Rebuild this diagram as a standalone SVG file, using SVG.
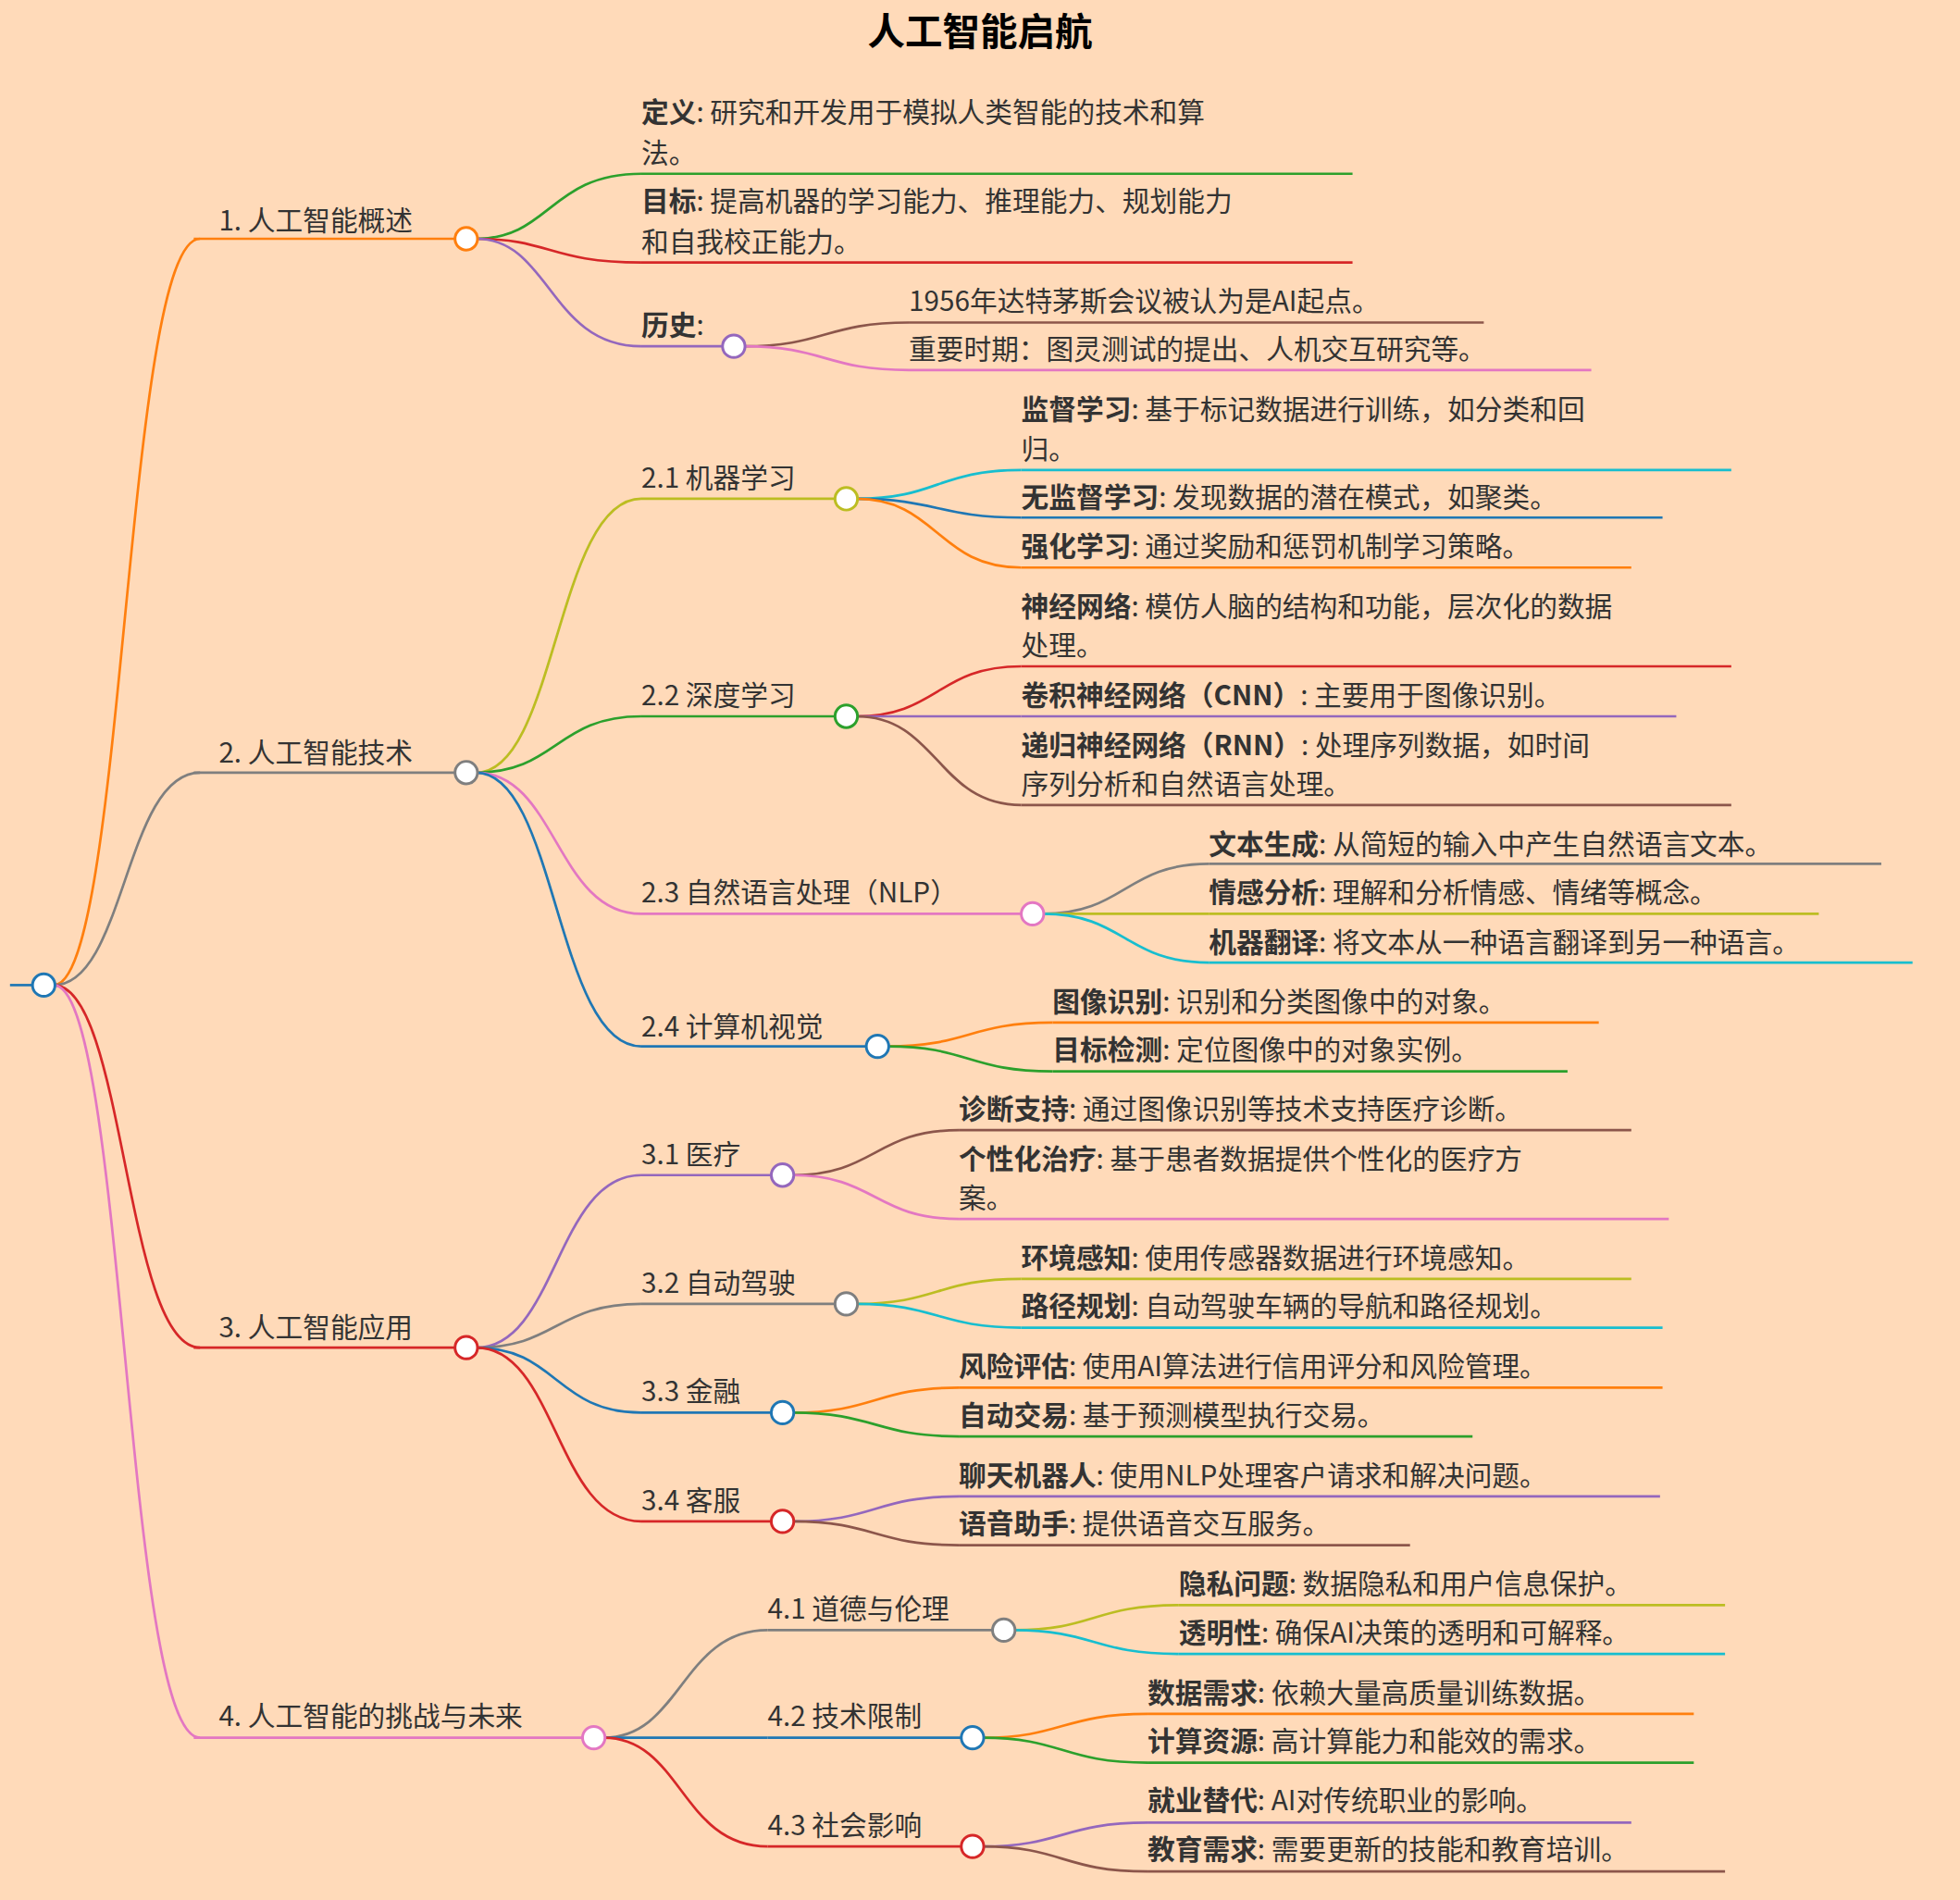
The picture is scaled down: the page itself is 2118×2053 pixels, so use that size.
<svg xmlns="http://www.w3.org/2000/svg" width="2118" height="2053" viewBox="0 0 2118 2053">
<style>
text{font-family:"Noto Sans CJK SC","Noto Sans",sans-serif;font-size:22px;fill:#333}
.t{font-size:30px;font-weight:bold;fill:#000}
b,.b{font-weight:bold}
path,line{fill:none;stroke-width:2}
circle{fill:#fff;stroke-width:2.2}
</style>
<rect width="2118" height="2053" fill="#ffdab9"/>
<g transform="scale(1.3508)">
<text class="t" x="784" y="36" text-anchor="middle">人工智能启航</text>
<g id="connectors">
<line x1="8" y1="788" x2="28" y2="788" stroke="#1f77b4" stroke-width="3"/>
<path d="M43 788 C100 788 100 191 160 191" stroke="#ff7f0e"/>
<path d="M43 788 C100 788 100 618 160 618" stroke="#7f7f7f"/>
<path d="M43 788 C100 788 100 1078 160 1078" stroke="#d62728"/>
<path d="M43 788 C100 788 100 1390 160 1390" stroke="#e377c2"/>
<path d="M381 191 C440 191 440 139 513 139" stroke="#2ca02c"/>
<path d="M381 191 C440 191 440 210 513 210" stroke="#d62728"/>
<path d="M381 191 C440 191 440 277 513 277" stroke="#9467bd"/>
<path d="M595 277 C660 277 660 258 727 258" stroke="#8c564b"/>
<path d="M595 277 C660 277 660 296 727 296" stroke="#e377c2"/>
<path d="M381 618 C445 618 445 399 513 399" stroke="#bcbd22"/>
<path d="M381 618 C445 618 445 573 513 573" stroke="#2ca02c"/>
<path d="M381 618 C445 618 445 731 513 731" stroke="#e377c2"/>
<path d="M381 618 C445 618 445 837 513 837" stroke="#1f77b4"/>
<path d="M685 399 C750 399 750 376 817 376" stroke="#17becf"/>
<path d="M685 399 C750 399 750 414 817 414" stroke="#1f77b4"/>
<path d="M685 399 C750 399 750 454 817 454" stroke="#ff7f0e"/>
<path d="M685 573 C750 573 750 533 817 533" stroke="#d62728"/>
<path d="M685 573 L817 573" stroke="#9467bd"/>
<path d="M685 573 C750 573 750 644 817 644" stroke="#8c564b"/>
<path d="M834 731 C900 731 900 691 967 691" stroke="#7f7f7f"/>
<path d="M834 731 L967 731" stroke="#bcbd22"/>
<path d="M834 731 C900 731 900 770 967 770" stroke="#17becf"/>
<path d="M710 837 C775 837 775 818 842 818" stroke="#ff7f0e"/>
<path d="M710 837 C775 837 775 857 842 857" stroke="#2ca02c"/>
<path d="M381 1078 C445 1078 445 940 513 940" stroke="#9467bd"/>
<path d="M381 1078 C445 1078 445 1043 513 1043" stroke="#7f7f7f"/>
<path d="M381 1078 C445 1078 445 1130 513 1130" stroke="#1f77b4"/>
<path d="M381 1078 C445 1078 445 1217 513 1217" stroke="#d62728"/>
<path d="M634 940 C700 940 700 904 767 904" stroke="#8c564b"/>
<path d="M634 940 C700 940 700 975 767 975" stroke="#e377c2"/>
<path d="M685 1043 C750 1043 750 1023 817 1023" stroke="#bcbd22"/>
<path d="M685 1043 C750 1043 750 1062 817 1062" stroke="#17becf"/>
<path d="M634 1130 C700 1130 700 1110 767 1110" stroke="#ff7f0e"/>
<path d="M634 1130 C700 1130 700 1149 767 1149" stroke="#2ca02c"/>
<path d="M634 1217 C700 1217 700 1197 767 1197" stroke="#9467bd"/>
<path d="M634 1217 C700 1217 700 1236 767 1236" stroke="#8c564b"/>
<path d="M483 1390 C545 1390 545 1304 614 1304" stroke="#7f7f7f"/>
<path d="M483 1390 L614 1390" stroke="#1f77b4"/>
<path d="M483 1390 C545 1390 545 1477 614 1477" stroke="#d62728"/>
<path d="M811 1304 C875 1304 875 1284 943 1284" stroke="#bcbd22"/>
<path d="M811 1304 C875 1304 875 1323 943 1323" stroke="#17becf"/>
<path d="M786 1390 C850 1390 850 1371 918 1371" stroke="#ff7f0e"/>
<path d="M786 1390 C850 1390 850 1410 918 1410" stroke="#2ca02c"/>
<path d="M786 1477 C850 1477 850 1458 918 1458" stroke="#9467bd"/>
<path d="M786 1477 C850 1477 850 1497 918 1497" stroke="#8c564b"/>
</g>
<g id="root"><circle cx="35" cy="788" r="9" stroke="#1f77b4"/></g>
<g id="n1"><line x1="155" y1="191" x2="365" y2="191" stroke="#ff7f0e"/><text x="175" y="184">1. 人工智能概述</text><circle cx="373" cy="191" r="9" stroke="#ff7f0e"/></g>
<g id="n1a"><line x1="513" y1="139" x2="1082" y2="139" stroke="#2ca02c"/><text x="513" y="98"><tspan class="b">定义</tspan>: 研究和开发用于模拟人类智能的技术和算</text><text x="513" y="130">法。</text></g>
<g id="n1b"><line x1="513" y1="210" x2="1082" y2="210" stroke="#d62728"/><text x="513" y="169"><tspan class="b">目标</tspan>: 提高机器的学习能力、推理能力、规划能力</text><text x="513" y="201">和自我校正能力。</text></g>
<g id="n1c"><line x1="513" y1="277" x2="579" y2="277" stroke="#9467bd"/><text x="513" y="268"><tspan class="b">历史</tspan>:</text><circle cx="587" cy="277" r="9" stroke="#9467bd"/></g>
<g id="n1c1"><line x1="727" y1="258" x2="1187" y2="258" stroke="#8c564b"/><text x="727" y="249">1956年达特茅斯会议被认为是AI起点。</text></g>
<g id="n1c2"><line x1="727" y1="296" x2="1273" y2="296" stroke="#e377c2"/><text x="727" y="287">重要时期：图灵测试的提出、人机交互研究等。</text></g>

<g id="n2"><line x1="155" y1="618" x2="365" y2="618" stroke="#7f7f7f"/><text x="175" y="610">2. 人工智能技术</text><circle cx="373" cy="618" r="9" stroke="#7f7f7f"/></g>
<g id="n21"><line x1="513" y1="399" x2="669" y2="399" stroke="#bcbd22"/><text x="513" y="390">2.1 机器学习</text><circle cx="677" cy="399" r="9" stroke="#bcbd22"/></g>
<g id="n211"><line x1="817" y1="376" x2="1385" y2="376" stroke="#17becf"/><text x="817" y="335"><tspan class="b">监督学习</tspan>: 基于标记数据进行训练，如分类和回</text><text x="817" y="367">归。</text></g>
<g id="n212"><line x1="817" y1="414" x2="1330" y2="414" stroke="#1f77b4"/><text x="817" y="406"><tspan class="b">无监督学习</tspan>: 发现数据的潜在模式，如聚类。</text></g>
<g id="n213"><line x1="817" y1="454" x2="1305" y2="454" stroke="#ff7f0e"/><text x="817" y="445"><tspan class="b">强化学习</tspan>: 通过奖励和惩罚机制学习策略。</text></g>
<g id="n22"><line x1="513" y1="573" x2="669" y2="573" stroke="#2ca02c"/><text x="513" y="564">2.2 深度学习</text><circle cx="677" cy="573" r="9" stroke="#2ca02c"/></g>
<g id="n221"><line x1="817" y1="533" x2="1385" y2="533" stroke="#d62728"/><text x="817" y="493"><tspan class="b">神经网络</tspan>: 模仿人脑的结构和功能，层次化的数据</text><text x="817" y="524">处理。</text></g>
<g id="n222"><line x1="817" y1="573" x2="1341" y2="573" stroke="#9467bd"/><text x="817" y="564"><tspan class="b">卷积神经网络（CNN）</tspan>: 主要用于图像识别。</text></g>
<g id="n223"><line x1="817" y1="644" x2="1385" y2="644" stroke="#8c564b"/><text x="817" y="604"><tspan class="b">递归神经网络（RNN）</tspan>: 处理序列数据，如时间</text><text x="817" y="635">序列分析和自然语言处理。</text></g>
<g id="n23"><line x1="513" y1="731" x2="818" y2="731" stroke="#e377c2"/><text x="513" y="722">2.3 自然语言处理（NLP）</text><circle cx="826" cy="731" r="9" stroke="#e377c2"/></g>
<g id="n231"><line x1="967" y1="691" x2="1505" y2="691" stroke="#7f7f7f"/><text x="967" y="683"><tspan class="b">文本生成</tspan>: 从简短的输入中产生自然语言文本。</text></g>
<g id="n232"><line x1="967" y1="731" x2="1455" y2="731" stroke="#bcbd22"/><text x="967" y="722"><tspan class="b">情感分析</tspan>: 理解和分析情感、情绪等概念。</text></g>
<g id="n233"><line x1="967" y1="770" x2="1530" y2="770" stroke="#17becf"/><text x="967" y="762"><tspan class="b">机器翻译</tspan>: 将文本从一种语言翻译到另一种语言。</text></g>
<g id="n24"><line x1="513" y1="837" x2="694" y2="837" stroke="#1f77b4"/><text x="513" y="829">2.4 计算机视觉</text><circle cx="702" cy="837" r="9" stroke="#1f77b4"/></g>
<g id="n241"><line x1="842" y1="818" x2="1279" y2="818" stroke="#ff7f0e"/><text x="842" y="809"><tspan class="b">图像识别</tspan>: 识别和分类图像中的对象。</text></g>
<g id="n242"><line x1="842" y1="857" x2="1254" y2="857" stroke="#2ca02c"/><text x="842" y="848"><tspan class="b">目标检测</tspan>: 定位图像中的对象实例。</text></g>

<g id="n3"><line x1="155" y1="1078" x2="365" y2="1078" stroke="#d62728"/><text x="175" y="1070">3. 人工智能应用</text><circle cx="373" cy="1078" r="9" stroke="#d62728"/></g>
<g id="n31"><line x1="513" y1="940" x2="618" y2="940" stroke="#9467bd"/><text x="513" y="931">3.1 医疗</text><circle cx="626" cy="940" r="9" stroke="#9467bd"/></g>
<g id="n311"><line x1="767" y1="904" x2="1305" y2="904" stroke="#8c564b"/><text x="767" y="895"><tspan class="b">诊断支持</tspan>: 通过图像识别等技术支持医疗诊断。</text></g>
<g id="n312"><line x1="767" y1="975" x2="1335" y2="975" stroke="#e377c2"/><text x="767" y="935"><tspan class="b">个性化治疗</tspan>: 基于患者数据提供个性化的医疗方</text><text x="767" y="966">案。</text></g>
<g id="n32"><line x1="513" y1="1043" x2="669" y2="1043" stroke="#7f7f7f"/><text x="513" y="1034">3.2 自动驾驶</text><circle cx="677" cy="1043" r="9" stroke="#7f7f7f"/></g>
<g id="n321"><line x1="817" y1="1023" x2="1305" y2="1023" stroke="#bcbd22"/><text x="817" y="1014"><tspan class="b">环境感知</tspan>: 使用传感器数据进行环境感知。</text></g>
<g id="n322"><line x1="817" y1="1062" x2="1330" y2="1062" stroke="#17becf"/><text x="817" y="1053"><tspan class="b">路径规划</tspan>: 自动驾驶车辆的导航和路径规划。</text></g>
<g id="n33"><line x1="513" y1="1130" x2="618" y2="1130" stroke="#1f77b4"/><text x="513" y="1121">3.3 金融</text><circle cx="626" cy="1130" r="9" stroke="#1f77b4"/></g>
<g id="n331"><line x1="767" y1="1110" x2="1330" y2="1110" stroke="#ff7f0e"/><text x="767" y="1101"><tspan class="b">风险评估</tspan>: 使用AI算法进行信用评分和风险管理。</text></g>
<g id="n332"><line x1="767" y1="1149" x2="1178" y2="1149" stroke="#2ca02c"/><text x="767" y="1140"><tspan class="b">自动交易</tspan>: 基于预测模型执行交易。</text></g>
<g id="n34"><line x1="513" y1="1217" x2="618" y2="1217" stroke="#d62728"/><text x="513" y="1208">3.4 客服</text><circle cx="626" cy="1217" r="9" stroke="#d62728"/></g>
<g id="n341"><line x1="767" y1="1197" x2="1328" y2="1197" stroke="#9467bd"/><text x="767" y="1188"><tspan class="b">聊天机器人</tspan>: 使用NLP处理客户请求和解决问题。</text></g>
<g id="n342"><line x1="767" y1="1236" x2="1128" y2="1236" stroke="#8c564b"/><text x="767" y="1227"><tspan class="b">语音助手</tspan>: 提供语音交互服务。</text></g>

<g id="n4"><line x1="155" y1="1390" x2="467" y2="1390" stroke="#e377c2"/><text x="175" y="1381">4. 人工智能的挑战与未来</text><circle cx="475" cy="1390" r="9" stroke="#e377c2"/></g>
<g id="n41"><line x1="614" y1="1304" x2="795" y2="1304" stroke="#7f7f7f"/><text x="614" y="1295">4.1 道德与伦理</text><circle cx="803" cy="1304" r="9" stroke="#7f7f7f"/></g>
<g id="n411"><line x1="943" y1="1284" x2="1380" y2="1284" stroke="#bcbd22"/><text x="943" y="1275"><tspan class="b">隐私问题</tspan>: 数据隐私和用户信息保护。</text></g>
<g id="n412"><line x1="943" y1="1323" x2="1380" y2="1323" stroke="#17becf"/><text x="943" y="1314"><tspan class="b">透明性</tspan>: 确保AI决策的透明和可解释。</text></g>
<g id="n42"><line x1="614" y1="1390" x2="770" y2="1390" stroke="#1f77b4"/><text x="614" y="1381">4.2 技术限制</text><circle cx="778" cy="1390" r="9" stroke="#1f77b4"/></g>
<g id="n421"><line x1="918" y1="1371" x2="1355" y2="1371" stroke="#ff7f0e"/><text x="918" y="1362"><tspan class="b">数据需求</tspan>: 依赖大量高质量训练数据。</text></g>
<g id="n422"><line x1="918" y1="1410" x2="1355" y2="1410" stroke="#2ca02c"/><text x="918" y="1401"><tspan class="b">计算资源</tspan>: 高计算能力和能效的需求。</text></g>
<g id="n43"><line x1="614" y1="1477" x2="770" y2="1477" stroke="#d62728"/><text x="614" y="1468">4.3 社会影响</text><circle cx="778" cy="1477" r="9" stroke="#d62728"/></g>
<g id="n431"><line x1="918" y1="1458" x2="1305" y2="1458" stroke="#9467bd"/><text x="918" y="1448"><tspan class="b">就业替代</tspan>: AI对传统职业的影响。</text></g>
<g id="n432"><line x1="918" y1="1497" x2="1380" y2="1497" stroke="#8c564b"/><text x="918" y="1487"><tspan class="b">教育需求</tspan>: 需要更新的技能和教育培训。</text></g>
</g>
</svg>
